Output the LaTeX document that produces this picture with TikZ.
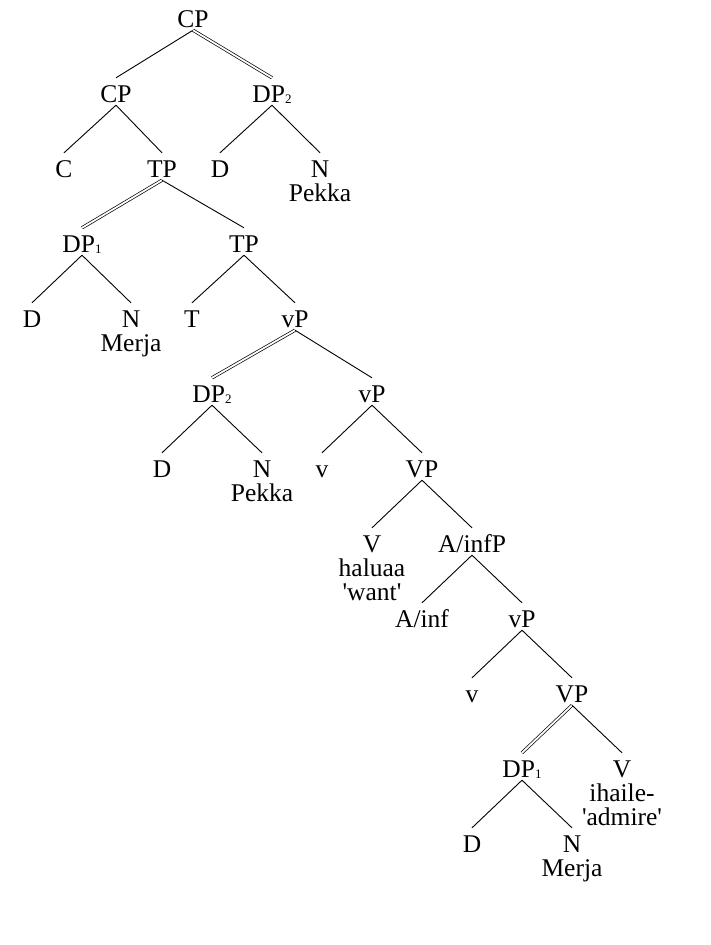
\documentclass[tikz,border=0pt]{standalone}
\usepackage{fontspec}
\setmainfont{Liberation Serif}
\usetikzlibrary{calc,positioning}

\newcommand{\idx}[1]{\raisebox{-1.5pt}{\fontsize{13}{13}\selectfont #1}}
\newcommand{\gl}[1]{\textquotesingle#1\textquotesingle}

\tikzset{
  cat/.style={inner sep=0pt, anchor=base, text height=24pt, text depth=3pt,
    font=\fontsize{25.5}{25.5}\selectfont},
  word/.style={cat, anchor=north, text height=21pt},
  branch/.style={line width=0.9pt},
  trace/.style={double, double distance=1.8pt, line width=0.7pt}
}

\begin{document}
\begin{tikzpicture}[x=1pt,y=-1pt]
\useasboundingbox (0,0) rectangle (710,945);
% top of the tree
\node[cat] (cp0) at (193,27) {CP};
\node[cat] (cp1) at (116,102) {CP};
\node[cat] (dp2a) at (272,102) {DP\idx{2}};
\node[cat] (c) at (64,177) {C};
\node[cat] (tp1) at (162,177) {TP};
\node[cat] (da) at (220,177) {D};
\node[cat] (na) at (320,177) {N};
\node[word, below=0pt of na] (pekkaA) {Pekka};
% subject
\node[cat] (dp1a) at (82,252) {DP\idx{1}};
\node[cat] (tp2) at (244,252) {TP};
\node[cat] (db) at (32,327) {D};
\node[cat] (nb) at (131,327) {N};
\node[word, below=0pt of nb] (merjaA) {Merja};
\node[cat] (t) at (192,327) {T};
\node[cat] (vp1) at (295,327) {vP};
% object in the higher vP
\node[cat] (dp2b) at (212,402) {DP\idx{2}};
\node[cat] (vp2) at (372,402) {vP};
\node[cat] (dc) at (162,477) {D};
\node[cat] (nc) at (262,477) {N};
\node[word, below=0pt of nc] (pekkaB) {Pekka};
\node[cat] (v1) at (322,477) {v};
\node[cat] (vp3) at (422,477) {VP};
\node[cat] (vv) at (372,552) {V};
\node[word, below=0pt of vv] (haluaa) {haluaa};
\node[word, below=0pt of haluaa] (want) {\gl{want}};
\node[cat] (ainfp) at (472,552) {A/infP};
\node[cat] (ainf) at (422,627) {A/inf};
\node[cat] (vp4) at (522,627) {vP};
\node[cat] (v2) at (472,702) {v};
\node[cat] (vp5) at (572,702) {VP};
% lower DP
\node[cat] (dp1b) at (522,777) {DP\idx{1}};
\node[cat] (vw) at (622,777) {V};
\node[word, below=0pt of vw] (ihaile) {ihaile-};
\node[word, below=0pt of ihaile] (admire) {\gl{admire}};
\node[cat] (dd) at (472,852) {D};
\node[cat] (nd) at (572,852) {N};
\node[word, below=0pt of nd] (merjaB) {Merja};

% branches
\draw[branch] (cp0.south) -- (cp1.north);
\draw[trace] (cp0.south) -- (dp2a.north);
\draw[branch] (cp1.south) -- (c.north);
\draw[branch] (cp1.south) -- (tp1.north);
\draw[branch] (dp2a.south) -- (da.north);
\draw[branch] (dp2a.south) -- (na.north);
\draw[trace] (tp1.south) -- (dp1a.north);
\draw[branch] (tp1.south) -- (tp2.north);
\draw[branch] (dp1a.south) -- (db.north);
\draw[branch] (dp1a.south) -- (nb.north);
\draw[branch] (tp2.south) -- (t.north);
\draw[branch] (tp2.south) -- (vp1.north);
\draw[trace] (vp1.south) -- (dp2b.north);
\draw[branch] (vp1.south) -- (vp2.north);
\draw[branch] (dp2b.south) -- (dc.north);
\draw[branch] (dp2b.south) -- (nc.north);
\draw[branch] (vp2.south) -- (v1.north);
\draw[branch] (vp2.south) -- (vp3.north);
\draw[branch] (vp3.south) -- (vv.north);
\draw[branch] (vp3.south) -- (ainfp.north);
\draw[branch] (ainfp.south) -- (ainf.north);
\draw[branch] (ainfp.south) -- (vp4.north);
\draw[branch] (vp4.south) -- (v2.north);
\draw[branch] (vp4.south) -- (vp5.north);
\draw[trace] (vp5.south) -- (dp1b.north);
\draw[branch] (vp5.south) -- (vw.north);
\draw[branch] (dp1b.south) -- (dd.north);
\draw[branch] (dp1b.south) -- (nd.north);
\end{tikzpicture}
\end{document}
